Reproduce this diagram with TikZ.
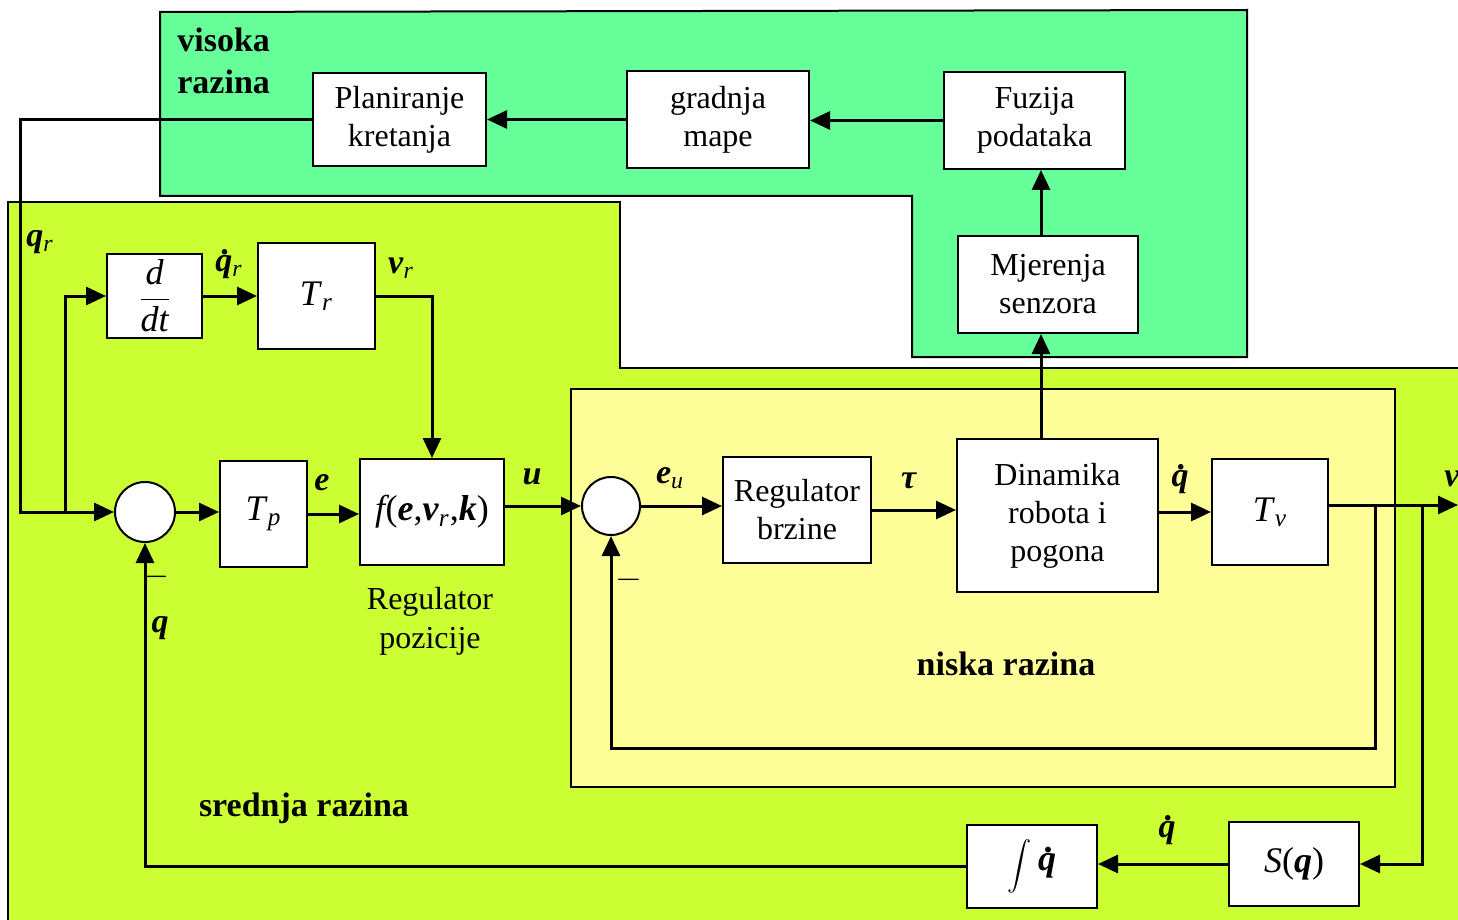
\documentclass[tikz,border=0pt]{standalone}
\usepackage{amsmath}
\usepackage{graphicx}
\usepackage{fontspec}
\setmainfont{Liberation Serif}
\usetikzlibrary{arrows.meta}
\definecolor{hgreen}{RGB}{102,255,153}
\definecolor{mlime}{RGB}{204,255,51}
\definecolor{lyellow}{RGB}{255,255,153}
\newcommand{\bi}[1]{\textbf{\textit{#1}}}
\newcommand{\dq}{\bi{q}\llap{\raisebox{0.5em}{\textbf{.}}\kern0.1em}}
\begin{document}
\begin{tikzpicture}[x=0.5pt,y=-0.5pt,
  blk/.style={draw, fill=white, line width=1pt, inner sep=0pt, align=center, font=\fontsize{16}{19}\selectfont},
  mblk/.style={draw, fill=white, line width=1pt, inner sep=0pt, align=center, font=\fontsize{18}{21}\selectfont},
  sumc/.style={draw, circle, fill=white, line width=1pt, inner sep=0pt},
  region/.style={draw, line width=1pt},
  arr/.style={line width=1.5pt, -{Triangle[length=10pt,width=9pt]}},
  conn/.style={line width=1.5pt},
  lbl/.style={inner sep=0pt, font=\fontsize{17}{20}\selectfont},
  ttl/.style={inner sep=0pt, align=left, font=\fontsize{17}{21}\selectfont\bfseries},
  txt/.style={inner sep=0pt, align=center, font=\fontsize{16}{19.5}\selectfont}]
\useasboundingbox (0,0) rectangle (1458,920);
\clip (0,0) rectangle (1458,920);
% regions
\draw[region, fill=hgreen] (160,12) -- (1247,10) -- (1247,357) -- (912,357) -- (912,196) -- (160,196) -- cycle;
\draw[region, fill=mlime] (8,202) -- (620,202) -- (620,368) -- (1470,368) -- (1470,930) -- (8,930) -- cycle;
\draw[region, fill=lyellow] (571,389) rectangle (1395,787);
% blocks
\node[blk, minimum width=86.5pt, minimum height=46.5pt] (plan) at (399.5,119.5) {Planiranje\\kretanja};
\node[blk, minimum width=91pt, minimum height=48.5pt] (gr) at (718,119.5) {gradnja\\mape};
\node[blk, minimum width=90.5pt, minimum height=48.5pt] (fuz) at (1034.5,120.5) {Fuzija\\podataka};
\node[blk, minimum width=90pt, minimum height=48.5pt] (mj) at (1048,284.5) {Mjerenja\\senzora};
\node[mblk, minimum width=47.5pt, minimum height=42pt] (ddt) at (154.5,296) {$\dfrac{\textit{d}}{\textit{dt}}$};
\node[mblk, minimum width=58.5pt, minimum height=53pt] (Tr) at (316.5,296) {\textit{T}\textsubscript{\textit{r}}};
\node[sumc, minimum size=30pt] (s1) at (145,512) {};
\node[mblk, minimum width=43.5pt, minimum height=53pt] (Tp) at (263.5,514) {\textit{T}\textsubscript{\textit{p}}};
\node[mblk, minimum width=72pt, minimum height=53pt] (f) at (432,512) {\textit{f}\kern-0.1em(\bi{e},\bi{v}\textsubscript{\textit{r}},\bi{k})};
\node[sumc, minimum size=29pt] (s2) at (611,506) {};
\node[blk, minimum width=74pt, minimum height=53pt] (rb) at (797,510) {Regulator\\brzine};
\node[blk, minimum width=100.5pt, minimum height=76.5pt] (din) at (1057.5,515.5) {Dinamika\\robota i\\pogona};
\node[mblk, minimum width=58pt, minimum height=53pt] (Tv) at (1270,512) {\textit{T}\textsubscript{\textit{v}}};
\node[mblk, minimum width=65pt, minimum height=42pt] (Sq) at (1294,864) {\textit{S}(\bi{q})};
\node[mblk, minimum width=65pt, minimum height=41.5pt] (int) at (1032,866.5) {\raisebox{-0.13em}{$\vcenter{\hbox{\scalebox{0.7}{$\displaystyle\int$}}}$}\,\dq};
% helper coordinates
\coordinate (cL) at (20,300);
\coordinate (j1) at (65,512);
\coordinate (mx) at (1041,0);
\coordinate (vout) at (1458,505);
\coordinate (j2) at (1375,505);
\coordinate (fb) at (611,748);
\coordinate (j3) at (1422,505);
% connectors
\draw[arr] (fuz.west) -- (gr.east |- fuz.west);
\draw[arr] (gr.west) -- (plan.east |- gr.west);
\draw[arr] (plan.west) -| (cL) |- (s1.west);
\draw[arr] (j1) |- (ddt.west);
\draw[arr] (ddt.east) -- (Tr.west);
\draw[arr] (Tr.east) -| (f.north);
\draw[arr] (s1.east) -- (Tp.west |- s1.east);
\draw[arr] (Tp.east) -- (f.west |- Tp.east);
\draw[arr] (f.east |- s2.west) -- (s2.west);
\draw[arr] (s2.east) -- (rb.west |- s2.east);
\draw[arr] (rb.east) -- (din.west |- rb.east);
\draw[arr] (din.north -| mx) -- (mj.south -| mx);
\draw[arr] (mj.north -| mx) -- (fuz.south -| mx);
\draw[arr] (din.east |- Tv.west) -- (Tv.west);
\draw[arr] (Tv.east |- vout) -- (vout);
\draw[arr] (j2) |- (fb) -- (s2.south);
\draw[arr] (j3) |- (Sq.east);
\draw[arr] (Sq.west) -- (int.east |- Sq.west);
\draw[arr] (int.west) -| (s1.south);
% labels
\node[ttl, anchor=west] (hl) at (177,61) {visoka\\razina};
\node[ttl] (ml) at (304,808) {srednja razina};
\node[ttl] (ll) at (1006,664) {niska razina};
\node[txt] (rp) at (430,621) {Regulator\\pozicije};
\node[lbl] (lqr) at (40,242) {\bi{q}\textsubscript{\textit{r}}};
\node[lbl] (ldqr) at (229,264) {\dq\textsubscript{\textit{r}}};
\node[lbl] (lvr) at (401,268) {\bi{v}\textsubscript{\textit{r}}};
\node[lbl] (le) at (322,483) {\bi{e}};
\node[lbl] (lu) at (532,477) {\bi{u}};
\node[lbl] (leu) at (670,478) {\bi{e}\textsubscript{\textit{u}}};
\node[lbl] (ltau) at (909,481) {\bi{τ}};
\node[lbl] (ldq1) at (1180,479) {\dq};
\node[lbl] (lv) at (1452,479) {\bi{v}};
\node[lbl] (ldq2) at (1167,830) {\dq};
\node[lbl] (lq) at (160,628) {\bi{q}};
\node[lbl] (m1) at (156,577) {$-$};
\node[lbl] (m2) at (629,580) {$-$};
\end{tikzpicture}
\end{document}
